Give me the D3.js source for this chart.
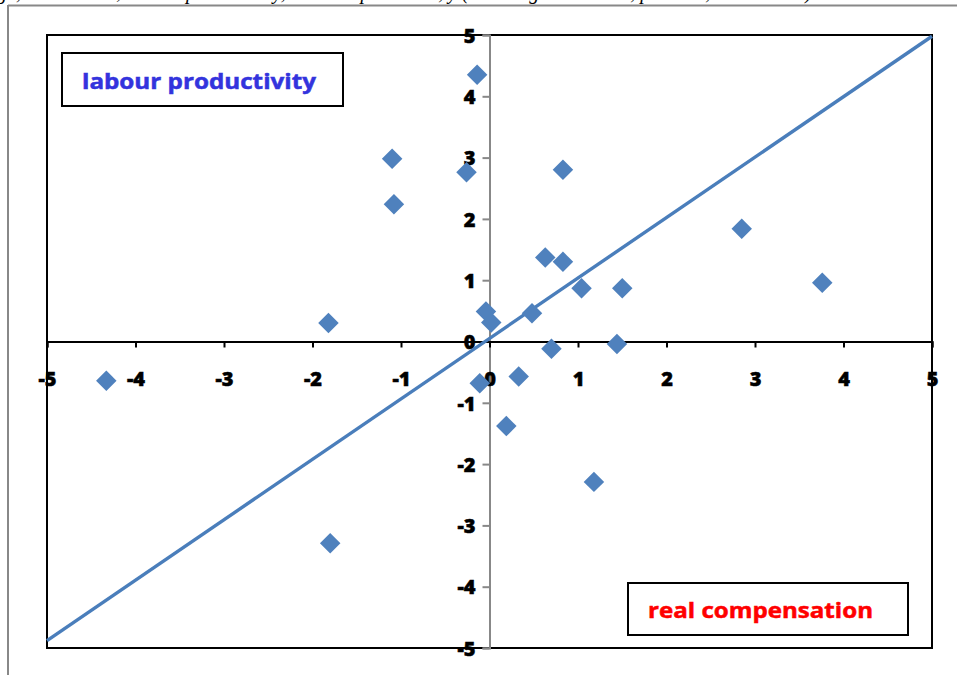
<!DOCTYPE html>
<html><head><meta charset="utf-8">
<script src="https://cdn.jsdelivr.net/npm/d3@7"></script>
<style>body{margin:0;background:#fff}svg{display:block}</style>
</head><body>
<script>
// Data
const realCompensation = [-4.33,-1.82,-1.80,-1.10,-1.08,-0.26,-0.14,-0.04,0.02,-0.11,0.33,0.19,0.48,0.70,0.63,0.83,0.83,1.04,1.44,1.50,1.18,2.85,3.76];
const labourProductivity = [-0.64,0.30,-3.29,2.98,2.24,2.76,4.35,0.49,0.31,-0.68,-0.57,-1.38,0.46,-0.12,1.37,1.30,2.80,0.87,-0.04,0.87,-2.29,1.84,0.96];
const lineX = [-5, 5];
const lineY = [-4.88, 4.98];
const xTicks = [-5,-4,-3,-2,-1,0,1,2,3,4,5];
const yTicks = [-5,-4,-3,-2,-1,0,1,2,3,4,5];
const captionText = "ge, 2000–2012; labour productivity, real compensation, y (annual growth rates, per cent, 2000–2012)";

const W = 957, H = 675;
const svg = d3.select("body").append("svg").attr("width", W).attr("height", H);

const L = 47, R = 932, T = 35, B = 648;
const x = d3.scaleLinear().domain([-5, 5]).range([L, R]);
const y = d3.scaleLinear().domain([-5, 5]).range([B, T]);

// caption (cut off at the top edge, as in the reference)
svg.append("text").attr("x", -3).attr("y", -1)
  .attr("font-family", "Liberation Serif, serif").attr("font-style", "italic")
  .attr("font-size", 20).attr("fill", "#000").text(captionText);

// outer frame
svg.append("line").attr("x1", 8).attr("x2", 8).attr("y1", 5).attr("y2", H).attr("stroke", "#888").attr("stroke-width", 2);
svg.append("line").attr("x1", 8).attr("x2", W).attr("y1", 5.5).attr("y2", 5.5).attr("stroke", "#888").attr("stroke-width", 2);

// plot area border
svg.append("rect").attr("x", L).attr("y", T).attr("width", R - L).attr("height", B - T)
  .attr("fill", "#fff").attr("stroke", "#000").attr("stroke-width", 2);

const font = "'Open Sans', Lato, sans-serif";

// y axis (vertical, gray) at x=0
const yAxis = d3.axisLeft(y).tickValues(yTicks).tickSize(7).tickFormat(d => d);
const gy = svg.append("g").attr("transform", `translate(${x(0)},0)`).call(yAxis);
gy.select(".domain").attr("stroke", "#888").attr("stroke-width", 2);
gy.selectAll(".tick line").attr("stroke", "#888").attr("stroke-width", 2);
gy.selectAll(".tick text").attr("font-family", font).attr("font-weight", 800)
  .attr("font-size", 20).attr("fill", "#000").attr("stroke", "#000").attr("stroke-width", 0.5)
  .attr("x", -14).attr("dy", "0.36em");

// x axis (horizontal, black) at y=0
const xAxis = d3.axisBottom(x).tickValues(xTicks).tickSize(6).tickFormat(d => d);
const gx = svg.append("g").attr("transform", `translate(0,${y(0)})`).call(xAxis);
gx.select(".domain").attr("stroke", "#000").attr("stroke-width", 2);
gx.selectAll(".tick line").attr("stroke", "#000").attr("stroke-width", 2);
gx.selectAll(".tick text").attr("font-family", font).attr("font-weight", 800)
  .attr("font-size", 20).attr("fill", "#000").attr("stroke", "#000").attr("stroke-width", 0.5)
  .attr("y", 37).attr("dy", "0.36em");

// 45-degree line
svg.append("line")
  .attr("x1", x(lineX[0])).attr("y1", y(lineY[0]))
  .attr("x2", x(lineX[1])).attr("y2", y(lineY[1]))
  .attr("stroke", "#4A7EBB").attr("stroke-width", 3.4);

// diamonds
const pts = realCompensation.map((v, i) => [v, labourProductivity[i]]);
const sym = d3.symbol().type(d3.symbolSquare).size(210);
svg.append("g").selectAll("path").data(pts).join("path")
  .attr("d", sym)
  .attr("transform", d => `translate(${x(d[0])},${y(d[1])}) rotate(45)`)
  .attr("fill", "#4F81BD");

// label boxes
function labelBox(x0, y0, w, h, txt, color, tx, ty, tw) {
  svg.append("rect").attr("x", x0).attr("y", y0).attr("width", w).attr("height", h)
    .attr("fill", "#fff").attr("stroke", "#000").attr("stroke-width", 2);
  svg.append("text").attr("x", tx).attr("y", ty)
    .attr("font-family", font).attr("font-weight", 700).attr("font-size", 22)
    .attr("fill", color).attr("stroke", color).attr("stroke-width", 0.5)
    .attr("textLength", tw).attr("lengthAdjust", "spacingAndGlyphs")
    .text(txt);
}
labelBox(62, 53, 281, 53, "labour productivity", "#3333DD", 82, 89, 234);
labelBox(628, 583, 280, 52, "real compensation", "#FF0000", 648, 618, 225);
</script>
</body></html>
